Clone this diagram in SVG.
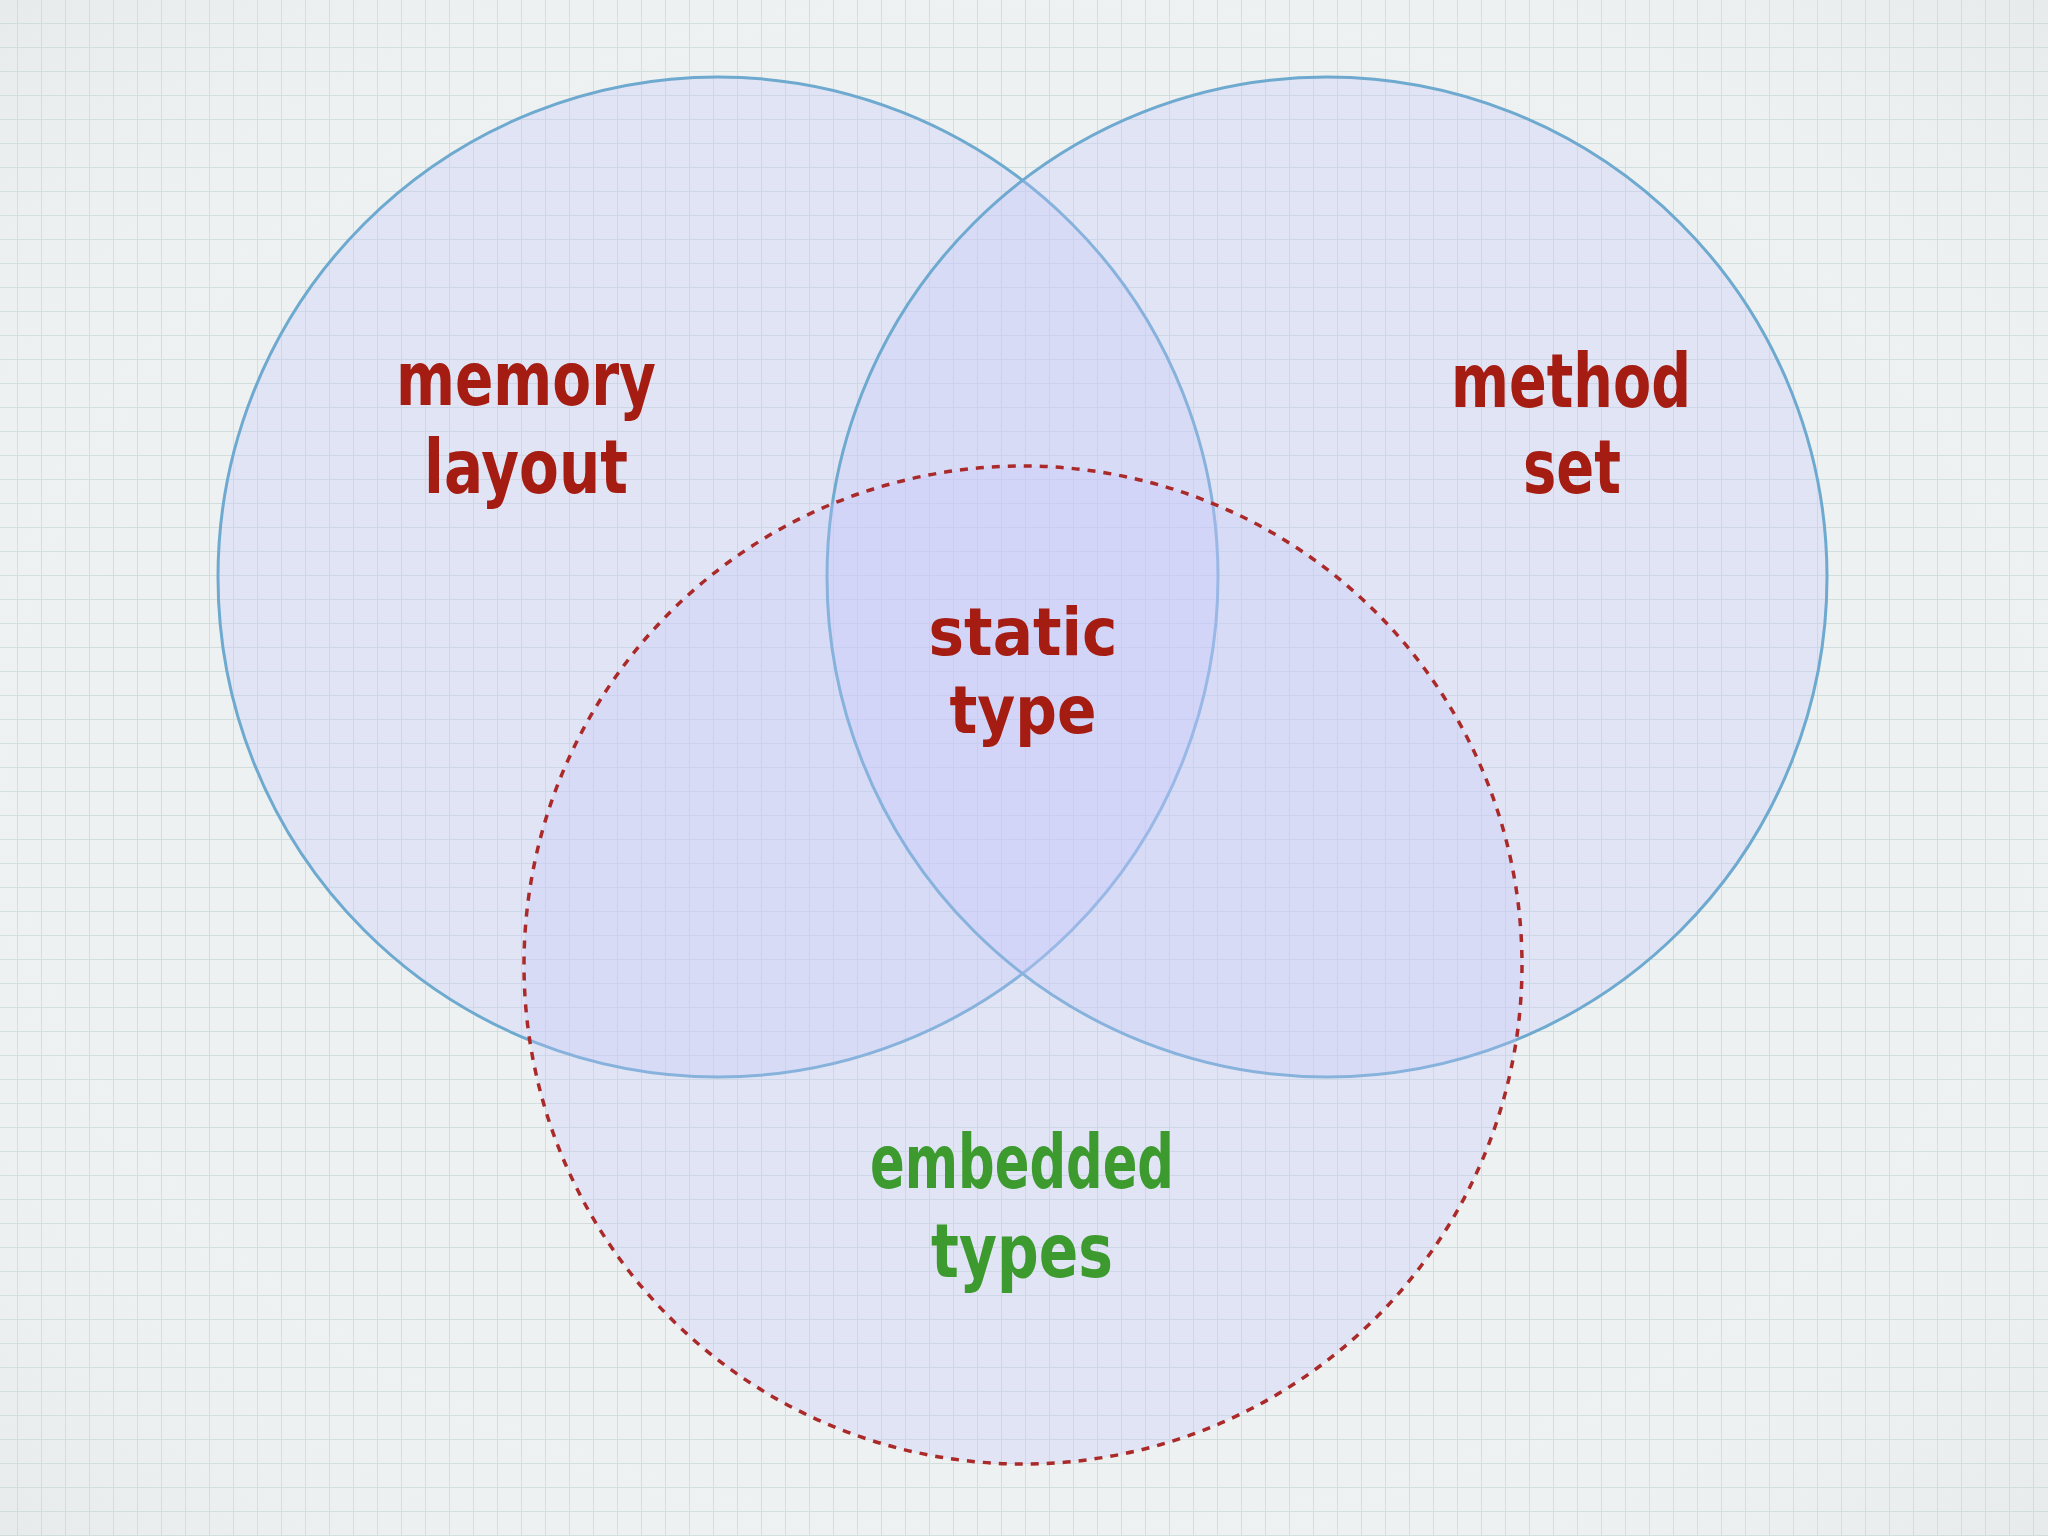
<svg xmlns="http://www.w3.org/2000/svg" width="2048" height="1536" viewBox="0 0 2048 1536">
  <defs>
    <pattern id="grid" x="17" y="23" width="24" height="24" patternUnits="userSpaceOnUse">
      <path d="M0 0 H24 M0 0 V24" fill="none" stroke="#d2dede" stroke-width="2"/>
    </pattern>
    <radialGradient id="vig" cx="50%" cy="50%" r="75%">
      <stop offset="0.6" stop-color="#ffffff" stop-opacity="0"/>
      <stop offset="1" stop-color="#c8cccc" stop-opacity="0.25"/>
    </radialGradient>
  </defs>
  <style>
    .set { fill: #c4c6fb; fill-opacity: 0.3; }
    .solid { stroke: #6ea9cf; stroke-width: 3; }
    .dashed { stroke: #aa2a2a; stroke-width: 3.5; stroke-dasharray: 8 8; }
    .lbl { font-family: "DejaVu Sans", "Liberation Sans", sans-serif; font-weight: bold; font-size: 74px; text-anchor: middle; }
    .small { font-size: 66px; }
    .red { fill: #a51c12; }
    .green { fill: #3c9a2f; }
  </style>
  <rect width="2048" height="1536" fill="#eef1f1"/>
  <rect width="2048" height="1536" fill="url(#grid)"/>
  <rect width="2048" height="1536" fill="url(#vig)"/>

  <g id="memory-layout">
    <circle class="set solid" cx="718" cy="577" r="500"/>
  </g>
  <g id="method-set">
    <circle class="set solid" cx="1327" cy="577" r="500"/>
  </g>
  <g id="embedded-types">
    <circle class="set dashed" cx="1023" cy="965" r="499"/>
  </g>

  <g id="labels">
    <g id="label-memory-layout" class="lbl red">
      <text x="526" y="405" textLength="260" lengthAdjust="spacingAndGlyphs">memory</text>
      <text x="526" y="493" textLength="204" lengthAdjust="spacingAndGlyphs">layout</text>
    </g>
    <g id="label-method-set" class="lbl red">
      <text x="1571" y="407" textLength="240" lengthAdjust="spacingAndGlyphs">method</text>
      <text x="1572" y="493" textLength="98" lengthAdjust="spacingAndGlyphs">set</text>
    </g>
    <g id="label-static-type" class="lbl small red">
      <text x="1023" y="655" textLength="189" lengthAdjust="spacingAndGlyphs">static</text>
      <text x="1023" y="733" textLength="147" lengthAdjust="spacingAndGlyphs">type</text>
    </g>
    <g id="label-embedded-types" class="lbl green">
      <text x="1022" y="1188" textLength="304" lengthAdjust="spacingAndGlyphs">embedded</text>
      <text x="1022" y="1277" textLength="182" lengthAdjust="spacingAndGlyphs">types</text>
    </g>
  </g>
</svg>
